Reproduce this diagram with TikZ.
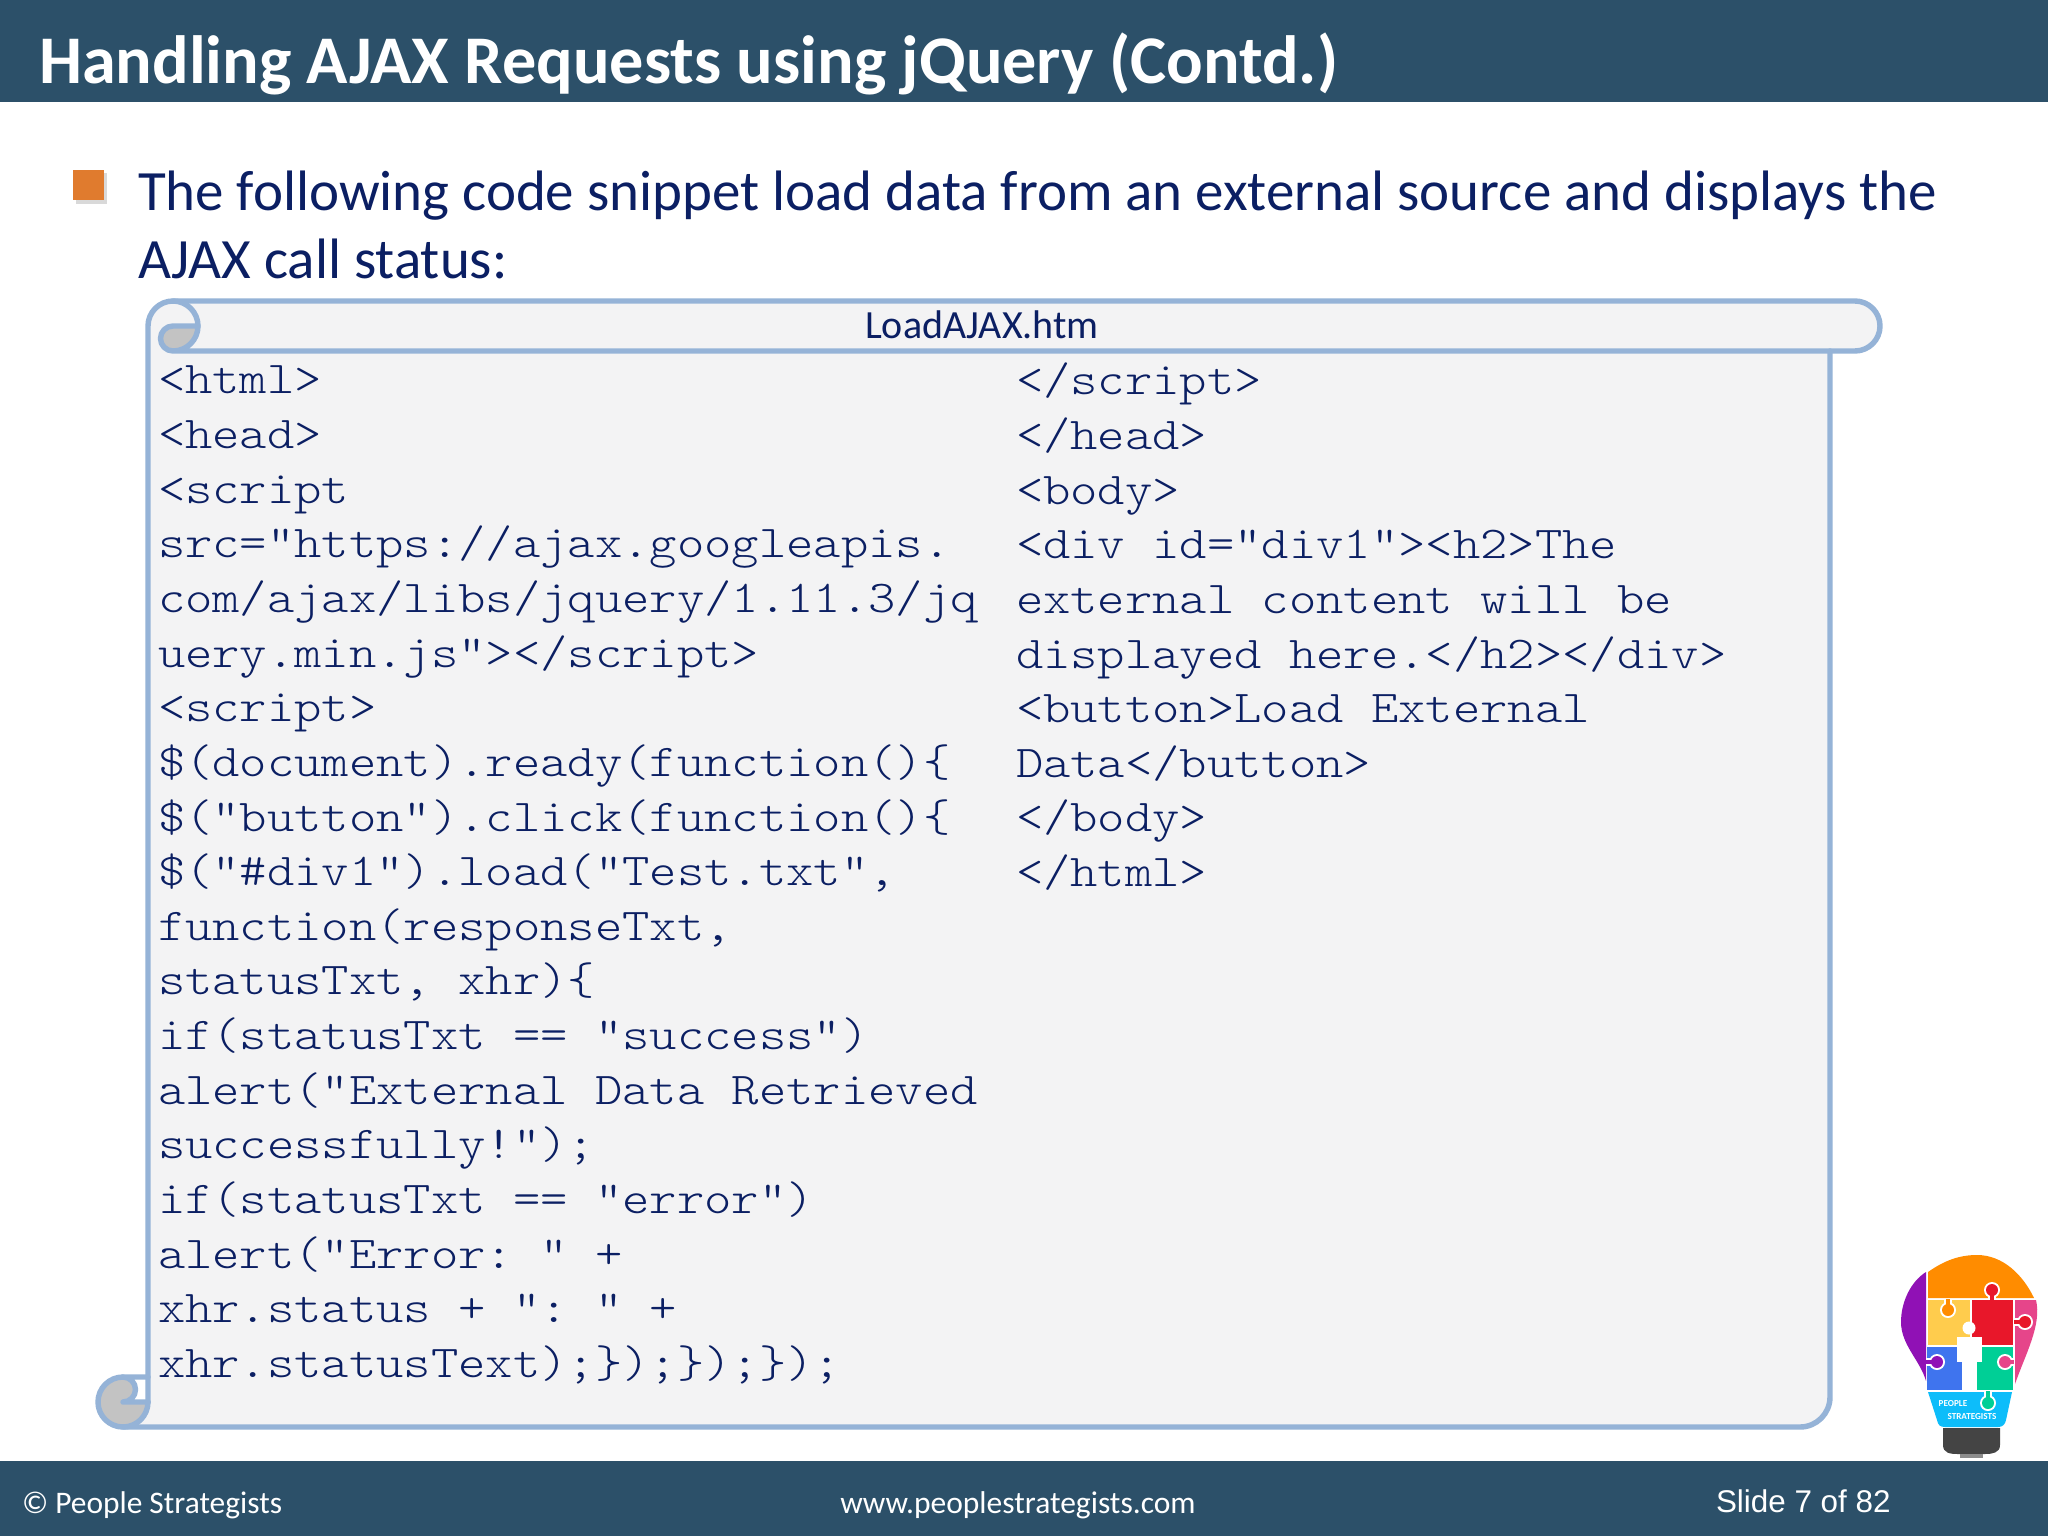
\documentclass[tikz,border=0pt]{standalone}
\usepackage{fontspec}
\setmainfont{Carlito}
\newfontfamily\codefont[FakeStretch=1.143]{Latin Modern Mono Light}
\newfontfamily\arialfont{Liberation Sans}
\definecolor{barblue}{HTML}{2C5069}
\definecolor{navy}{HTML}{0B1F63}
\definecolor{scrollline}{HTML}{95B3D7}
\definecolor{scrollfill}{HTML}{F3F3F4}
\definecolor{curlgrey}{HTML}{C3C3C3}
\definecolor{bulletorange}{HTML}{E07B2E}
\definecolor{bpurple}{HTML}{9011B5}
\definecolor{borange}{HTML}{FF8C00}
\definecolor{byellow}{HTML}{FFCC4D}
\definecolor{bred}{HTML}{E8172A}
\definecolor{bpink}{HTML}{E6458A}
\definecolor{bblue}{HTML}{3F74EE}
\definecolor{bgreen}{HTML}{00CF96}
\definecolor{bcyan}{HTML}{0DBDFA}
\definecolor{bdark}{HTML}{444444}
\tikzset{
  x=0.01cm,y=-0.01cm,
  txt/.style={inner sep=0pt,outer sep=0pt,anchor=base west},
  codeblock/.style={inner sep=0pt,outer sep=0pt,anchor=north west,align=left,text=navy,
    font=\codefont\fontsize{12.95pt}{15.54pt}\selectfont\frenchspacing},
  scrollstroke/.style={draw=scrollline,line width=1.55pt,line join=round,line cap=round},
}
\begin{document}
\begin{tikzpicture}
\useasboundingbox (0,0) rectangle (2048,1536);
\fill[white] (0,0) rectangle (2048,1536);
% bars
\fill[barblue] (0,0) rectangle (2048,102);
\fill[barblue] (0,1461) rectangle (2048,1536);
\node[txt,text=white] (title) at (39,83.5) {\fontsize{19.4pt}{22pt}\selectfont\bfseries Handling AJAX Requests using jQuery (Contd.)};
% bullet
\fill[black!15] (76,173) rectangle (107,204);
\fill[bulletorange] (73,170) rectangle (104,200);
\node[txt,text=navy] (line1) at (138,210.5) {\fontsize{16.2pt}{18pt}\selectfont The following code snippet load data from an external source and displays the};
\node[txt,text=navy] (line2) at (138,278) {\fontsize{16.2pt}{18pt}\selectfont AJAX call status:};
% scroll fills
\fill[scrollfill] (148,326) -- (148,1402) -- (123,1427) -- (1800,1427) arc (90:0:30) -- (1830,351) -- (1855,351) arc (90:-90:25) -- (173,301) arc (270:180:25) -- cycle;
\fill[white] (136,1379) rectangle (147,1402);
\fill[curlgrey] (173,351) arc (90:270:12.5) -- (198,326) arc (0:90:25) -- cycle;
\fill[curlgrey] (123,1377) arc (270:90:25) arc (90:0:25) -- (123,1402) arc (90:-90:12.5) -- cycle;
% scroll strokes
\draw[scrollstroke] (148,1402) -- (148,326) arc (180:270:25) -- (1855,301) arc (-90:90:25) -- (173,351) arc (90:270:12.5) -- (198,326) arc (0:90:25);
\draw[scrollstroke] (173,301) arc (270:360:25);
\draw[scrollstroke] (148,1402) -- (123,1402) arc (90:-90:12.5) -- (148,1377);
\draw[scrollstroke] (123,1377) arc (270:90:25) -- (1800,1427) arc (90:0:30) -- (1830,351);
\draw[scrollstroke] (123,1427) arc (90:0:25);
\node[inner sep=0pt,text=navy,anchor=base] (fname) at (982,338) {\fontsize{11.37pt}{13pt}\selectfont LoadAJAX.htm};
% code
\node[codeblock] (codeL) at (158,366) {%
<html>\\
<head>\\
<script\\
src="https://ajax.googleapis.\\
com/ajax/libs/jquery/1.11.3/jq\\
uery.min.js"></script>\\
<script>\\
\$(document).ready(function()\{\\
\$("button").click(function()\{\\
\$("\#div1").load("Test.txt",\\
function(responseTxt,\\
statusTxt, xhr)\{\\
if(statusTxt == "success")\\
alert("External Data Retrieved\\
successfully!");\\
if(statusTxt == "error")\\
alert("Error: " +\\
xhr.status + ": " +\\
xhr.statusText);\});\});\});};
\node[codeblock] (codeR) at (1016,363) {%
</script>\\
</head>\\
<body>\\
<div id="div1"><h2>The\\
external content will be\\
displayed here.</h2></div>\\
<button>Load External\\
Data</button>\\
</body>\\
</html>};
% footer text
\node[txt,text=white] (copy) at (22,1513) {\fontsize{8.93pt}{10pt}\selectfont © People Strategists};
\node[inner sep=0pt,text=white,anchor=base] (web) at (1018,1513) {\fontsize{8.96pt}{10pt}\selectfont www.peoplestrategists.com};
\node[txt,text=white] (slide) at (1716,1512) {\arialfont\fontsize{8.93pt}{10pt}\selectfont Slide 7 of 82};
% bulb
\fill[bdark] (1943,1428) -- (2000,1428) -- (2000,1445) .. controls (2000,1453) and (1992,1454) .. (1985,1454) -- (1958,1454) .. controls (1950,1454) and (1943,1453) .. (1943,1445) -- cycle;
\fill[black!45] (1960,1454) rectangle (1983,1458);
\fill[bpurple] (1926,1272) .. controls (1910,1282) and (1901,1303) .. (1901,1322) .. controls (1901,1345) and (1920,1360) .. (1926,1381) -- cycle;
\fill[borange] (1928,1298) -- (1928,1272) .. controls (1945,1260) and (1960,1255) .. (1977,1255) .. controls (2003,1255) and (2023,1275) .. (2034,1298) -- cycle;
\fill[byellow] (1928,1300) rectangle (1970,1345);
\fill[bred] (1972,1300) rectangle (2013,1345);
\fill[bpink] (2015,1300) -- (2036,1300) .. controls (2042,1325) and (2025,1355) .. (2015,1384) -- cycle;
\fill[bblue] (1927,1347) rectangle (1962,1390);
\fill[bgreen] (1977,1347) rectangle (2013,1390);
\fill[bcyan] (1928,1392) -- (2012,1392) -- (2006,1420) .. controls (2005,1425) and (2002,1427) .. (1998,1427) -- (1945,1427) .. controls (1940,1427) and (1938,1425) .. (1937,1420) -- cycle;
% puzzle tabs: white ring, neck, coloured knob
\foreach \kx/\ky/\nx/\ny/\col in {1948/1310/1948/1299/borange, 1992/1290/1992/1300/bred, 2025/1322/2014/1322/bred, 1937/1362/1926/1362/bpurple, 2005/1362/2014/1362/bpink, 1988/1403/1988/1391/bgreen}{
  \draw[white,line width=2.2pt] (\nx,\ny) -- (\kx,\ky);
  \fill[white] (\kx,\ky) circle (8);
  \draw[\col,line width=1.1pt] (\nx,\ny) -- (\kx,\ky);
  \fill[\col] (\kx,\ky) circle (6);
}
% person
\fill[white] (1969,1328) circle (6.5);
\fill[white] (1957,1337) rectangle (1982,1362);
\fill[white] (1962,1337) rectangle (1977,1390);
% bulb lettering
\node[inner sep=0pt,text=white,anchor=base west] (pl1) at (1938,1406) {\fontsize{2.6pt}{3pt}\selectfont\bfseries PEOPLE};
\node[inner sep=0pt,text=white,anchor=base] (pl2) at (1972,1419) {\fontsize{2.6pt}{3pt}\selectfont\bfseries STRATEGISTS};
\end{tikzpicture}
\end{document}
